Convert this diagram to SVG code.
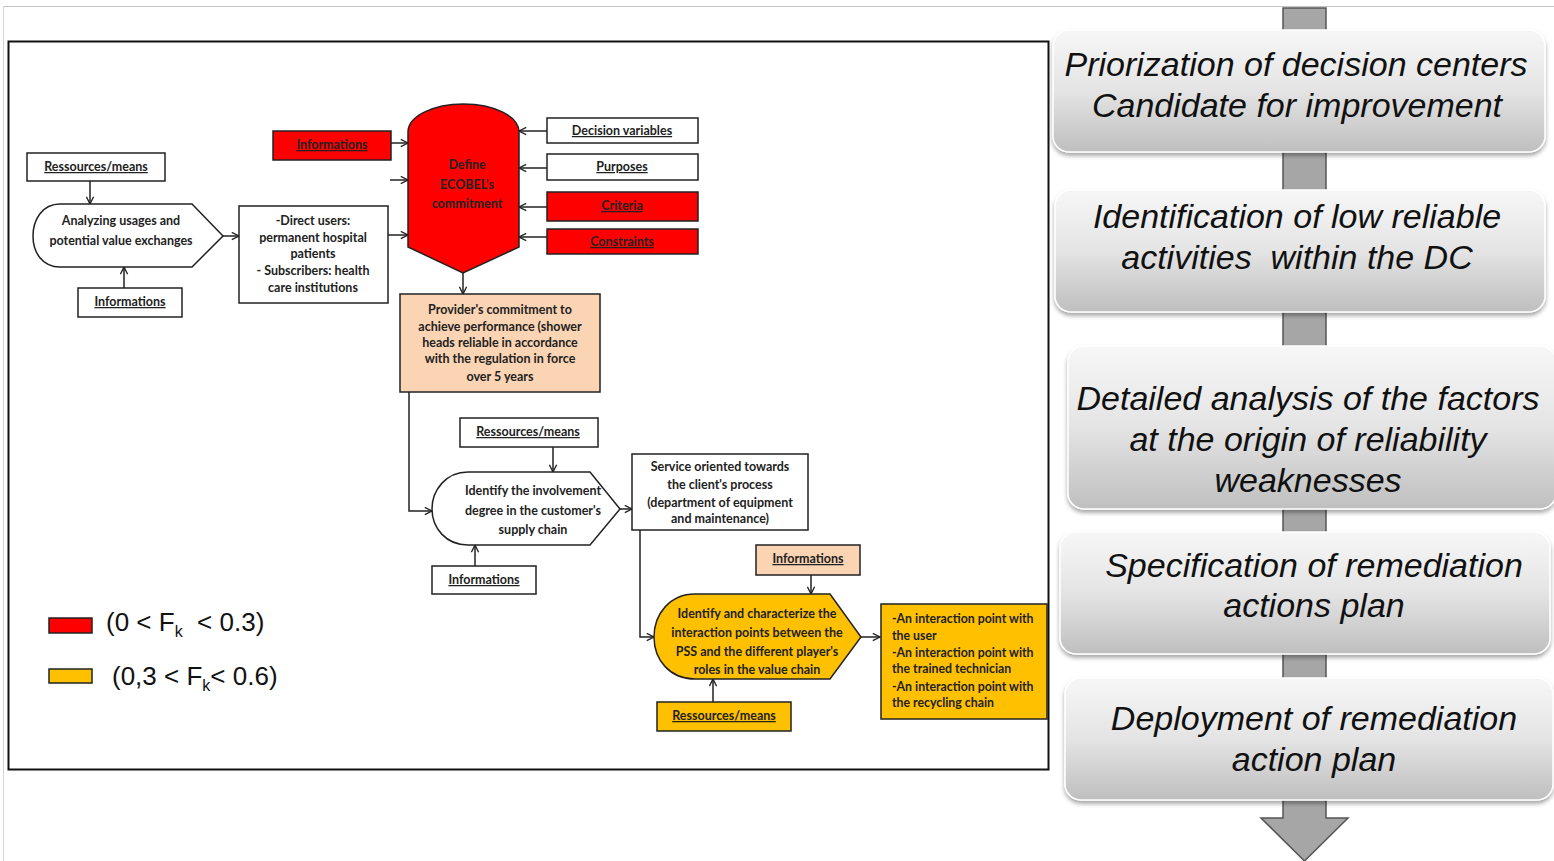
<svg xmlns="http://www.w3.org/2000/svg" width="1554" height="861" viewBox="0 0 1554 861">
<defs>
<style>
.bx{stroke:#222;stroke-width:1.5}
.w{fill:#fff}.red{fill:#ff0000}.peach{fill:#fbd4b4}.yel{fill:#ffc000}
.t{font-family:Lato,"Liberation Sans",sans-serif;font-weight:700;font-size:12.5px;fill:#222;text-anchor:middle}
.tl{font-family:Lato,"Liberation Sans",sans-serif;font-weight:700;font-size:12.3px;fill:#222}
.u{text-decoration:underline}
.conn{stroke:#222;stroke-width:1.5;fill:none;marker-end:url(#ah)}
.big{font-family:"Liberation Sans",Arial,sans-serif;font-style:italic;font-size:34px;fill:#111;text-anchor:middle}
.step{fill:url(#g);stroke:#fff;stroke-width:1.5;filter:url(#sh)}
.bar{fill:#a6a6a6;stroke:#555;stroke-width:1.5}
.leg{font-family:"Liberation Sans",Arial,sans-serif;font-size:26px;fill:#111}
</style>
<marker id="ah" viewBox="0 0 10 10" refX="9" refY="5" markerWidth="9" markerHeight="9" orient="auto" markerUnits="userSpaceOnUse">
<path d="M1,1 L9,5 L1,9" fill="none" stroke="#222" stroke-width="1.5"/>
</marker>
<linearGradient id="g" x1="0" y1="0" x2="0" y2="1">
<stop offset="0" stop-color="#f7f7f7"/>
<stop offset="0.5" stop-color="#e4e4e4"/>
<stop offset="1" stop-color="#bfbfbf"/>
</linearGradient>
<filter id="sh" x="-5%" y="-10%" width="110%" height="130%">
<feDropShadow dx="0" dy="3" stdDeviation="2" flood-color="#000" flood-opacity="0.35"/>
</filter>
</defs>
<rect width="1554" height="861" fill="#fff"/>
<line x1="3" y1="6.5" x2="1554" y2="6.5" stroke="#c4c4c4" stroke-width="1"/>
<line x1="3.5" y1="6" x2="3.5" y2="861" stroke="#d4d4d4" stroke-width="1"/>
<rect id="frame" x="8.5" y="41.5" width="1040" height="728" fill="none" stroke="#111" stroke-width="2"/>

<g id="connectors">
<line class="conn" x1="90" y1="181" x2="90" y2="204"/>
<line class="conn" x1="124" y1="288" x2="124" y2="267"/>
<line class="conn" x1="223" y1="236" x2="239" y2="236"/>
<line class="conn" x1="388" y1="235" x2="408" y2="235"/>
<line class="conn" x1="391" y1="143" x2="408" y2="143"/>
<line class="conn" x1="390" y1="180" x2="408" y2="180"/>
<line class="conn" x1="547" y1="131" x2="519" y2="131"/>
<line class="conn" x1="547" y1="168" x2="519" y2="168"/>
<line class="conn" x1="547" y1="207" x2="519" y2="207"/>
<line class="conn" x1="547" y1="237" x2="519" y2="237"/>
<line class="conn" x1="463" y1="273" x2="463" y2="294"/>
<polyline class="conn" points="409,392 409,511 432,511"/>
<line class="conn" x1="553" y1="447" x2="553" y2="472"/>
<line class="conn" x1="475" y1="566" x2="475" y2="545"/>
<line class="conn" x1="620" y1="509" x2="632" y2="509"/>
<polyline class="conn" points="640,530 640,637 654,637"/>
<line class="conn" x1="811" y1="575" x2="811" y2="594"/>
<line class="conn" x1="713" y1="702" x2="713" y2="679"/>
<line class="conn" x1="861" y1="637" x2="880" y2="637"/>
</g>

<g id="n-res1"><rect class="bx w" x="27" y="153" width="138" height="28"/><text class="t u" x="96" y="171">Ressources/means</text></g>
<g id="n-analyzing"><path class="bx w" d="M60,204 L192,204 L223,236 L192,267 L60,267 C42,267 33,252 33,236 C33,220 42,204 60,204 Z"/>
<text class="t" x="121" y="225">Analyzing usages and</text><text class="t" x="121" y="245">potential value exchanges</text></g>
<g id="n-info1"><rect class="bx w" x="78" y="288" width="104" height="29"/><text class="t u" x="130" y="306">Informations</text></g>
<g id="n-direct"><rect class="bx w" x="239" y="206" width="149" height="97"/>
<text class="t" x="313" y="225">-Direct users:</text><text class="t" x="313" y="242">permanent hospital</text><text class="t" x="313" y="258">patients</text><text class="t" x="313" y="275">- Subscribers: health</text><text class="t" x="313" y="292">care institutions</text></g>
<g id="n-info-red"><rect class="bx red" x="273" y="131" width="118" height="29"/><text class="t u" x="332" y="149">Informations</text></g>
<g id="n-define"><path class="bx red" d="M408,247 L408,132 A55.5,28 0 0 1 519,132 L519,247 L463,273 Z"/>
<text class="t" x="467" y="169">Define</text><text class="t" x="467" y="189">ECOBEL's</text><text class="t" x="467" y="208">commitment</text></g>
<g id="n-decvar"><rect class="bx w" x="547" y="118" width="151" height="25"/><text class="t u" x="622" y="135">Decision variables</text></g>
<g id="n-purposes"><rect class="bx w" x="547" y="154" width="151" height="26"/><text class="t u" x="622" y="171">Purposes</text></g>
<g id="n-criteria"><rect class="bx red" x="547" y="192" width="151" height="29"/><text class="t u" x="622" y="210">Criteria</text></g>
<g id="n-constraints"><rect class="bx red" x="547" y="229" width="151" height="25"/><text class="t u" x="622" y="246">Constraints</text></g>
<g id="n-provider"><rect class="bx peach" x="400" y="294" width="200" height="98"/>
<text class="t" x="500" y="314">Provider's commitment to</text><text class="t" x="500" y="331">achieve performance (shower</text><text class="t" x="500" y="347">heads reliable in accordance</text><text class="t" x="500" y="363">with the regulation in force</text><text class="t" x="500" y="381">over 5 years</text></g>
<g id="n-res2"><rect class="bx w" x="460" y="418" width="138" height="29"/><text class="t u" x="528" y="436">Ressources/means</text></g>
<g id="n-involvement"><path class="bx w" d="M468,472 L590,472 L620,509 L590,545 L468,545 C446,545 432,528 432,509 C432,490 446,472 468,472 Z"/>
<text class="t" x="533" y="495">Identify the involvement</text><text class="t" x="533" y="515">degree in the customer's</text><text class="t" x="533" y="534">supply chain</text></g>
<g id="n-info2"><rect class="bx w" x="432" y="566" width="104" height="28"/><text class="t u" x="484" y="584">Informations</text></g>
<g id="n-service"><rect class="bx w" x="632" y="454" width="176" height="76"/>
<text class="t" x="720" y="471">Service oriented towards</text><text class="t" x="720" y="489">the client's process</text><text class="t" x="720" y="507">(department of equipment</text><text class="t" x="720" y="523">and maintenance)</text></g>
<g id="n-info3"><rect class="bx peach" x="756" y="545" width="104" height="30"/><text class="t u" x="808" y="563">Informations</text></g>
<g id="n-interaction"><path class="bx yel" d="M695,594 L830,594 L861,637 L830,679 L695,679 C670,679 654,660 654,637 C654,614 670,594 695,594 Z"/>
<text class="t" x="757" y="618">Identify and characterize the</text><text class="t" x="757" y="637">interaction points between the</text><text class="t" x="757" y="656">PSS and the different player's</text><text class="t" x="757" y="674">roles in the value chain</text></g>
<g id="n-points"><rect class="bx yel" x="881" y="604" width="166" height="115"/>
<text class="tl" x="892" y="623">-An interaction point with</text><text class="tl" x="892" y="640">the user</text><text class="tl" x="892" y="657">-An interaction point with</text><text class="tl" x="892" y="673">the trained technician</text><text class="tl" x="892" y="691">-An interaction point with</text><text class="tl" x="892" y="707">the recycling chain</text></g>
<g id="n-res3"><rect class="bx yel" x="657" y="702" width="134" height="29"/><text class="t u" x="724" y="720">Ressources/means</text></g>

<g id="legend">
<rect x="49" y="618" width="43" height="15" fill="#ff0000" stroke="#222" stroke-width="1.5"/>
<text class="leg" x="106" y="631" xml:space="preserve">(0 &lt; F<tspan font-size="16" dy="6">k</tspan><tspan dy="-6">  &lt; 0.3)</tspan></text>
<rect x="49" y="669" width="43" height="14" fill="#ffc000" stroke="#222" stroke-width="1.5"/>
<text class="leg" x="112" y="685">(0,3 &lt; F<tspan font-size="16" dy="6">k</tspan><tspan dy="-6">&lt; 0.6)</tspan></text>
</g>

<g id="steps-bars">
<rect class="bar" x="1283" y="8" width="43" height="24"/>
<rect class="bar" x="1283" y="150" width="43" height="42"/>
<rect class="bar" x="1283" y="310" width="43" height="38"/>
<rect class="bar" x="1283" y="507" width="43" height="27"/>
<rect class="bar" x="1283" y="652" width="43" height="28"/>
<path class="bar" d="M1283,798 L1326,798 L1326,818 L1348,818 L1304.5,861 L1261,818 L1283,818 Z"/>
</g>
<g id="step1"><rect class="step" x="1053" y="30" width="492" height="122" rx="16"/>
<text class="big" x="1296" y="76">Priorization of decision centers</text><text class="big" x="1297" y="117">Candidate for improvement</text></g>
<g id="step2"><rect class="step" x="1055" y="190" width="490" height="122" rx="16"/>
<text class="big" x="1297" y="228">Identification of low reliable</text><text class="big" x="1297" y="269" xml:space="preserve">activities  within the DC</text></g>
<g id="step3"><rect class="step" x="1068" y="346" width="488" height="163" rx="16"/>
<text class="big" x="1308" y="410">Detailed analysis of the factors</text><text class="big" x="1308" y="451">at the origin of reliability</text><text class="big" x="1308" y="492">weaknesses</text></g>
<g id="step4"><rect class="step" x="1060" y="532" width="490" height="122" rx="16"/>
<text class="big" x="1314" y="577">Specification of remediation</text><text class="big" x="1314" y="617">actions plan</text></g>
<g id="step5"><rect class="step" x="1065" y="678" width="488" height="122" rx="16"/>
<text class="big" x="1314" y="730">Deployment of remediation</text><text class="big" x="1314" y="771">action plan</text></g>
</svg>
